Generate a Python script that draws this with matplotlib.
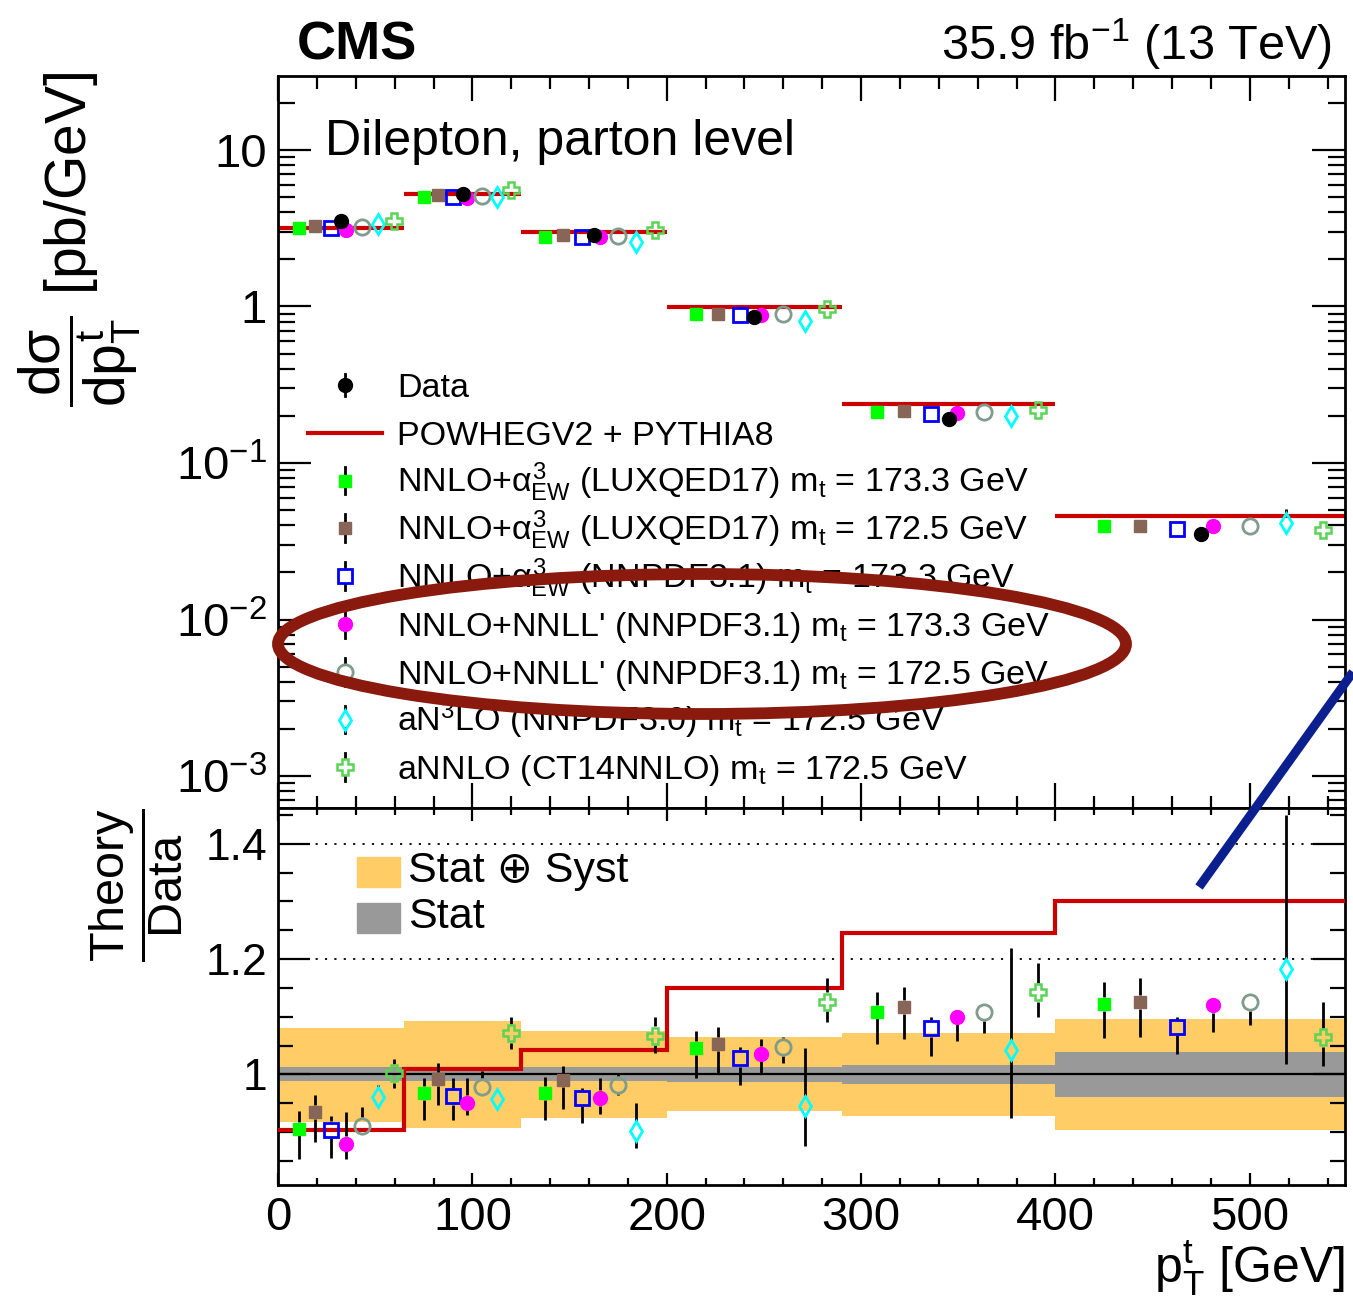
import numpy as np
import matplotlib
matplotlib.use("Agg")
import matplotlib.pyplot as plt
from matplotlib.patches import Ellipse, Rectangle
from matplotlib.lines import Line2D
from matplotlib.ticker import FixedLocator, FixedFormatter, MultipleLocator, LogLocator, NullFormatter

plt.rcParams['font.family'] = ['Liberation Sans', 'DejaVu Sans']
plt.rcParams['mathtext.fontset'] = 'custom'
plt.rcParams['mathtext.rm'] = 'Liberation Sans'
plt.rcParams['mathtext.it'] = 'Liberation Sans'
plt.rcParams['mathtext.bf'] = 'Liberation Sans:bold'
plt.rcParams['mathtext.sf'] = 'Liberation Sans'

# binning in pT(t) [GeV]
bin_edges = [0, 65, 125, 200, 290, 400, 550]

# measured cross section [pb/GeV]
data_xsec = [3.52, 5.21, 2.88, 0.857, 0.191, 0.0352]

# data uncertainty bands (relative)
tot_lo = [0.918, 0.907, 0.925, 0.937, 0.928, 0.903]
tot_hi = [1.081, 1.092, 1.075, 1.064, 1.072, 1.096]
stat_lo = [0.988, 0.988, 0.988, 0.987, 0.983, 0.961]
stat_hi = [1.012, 1.012, 1.012, 1.013, 1.017, 1.038]

# POWHEG+PYTHIA8 / data
powheg_ratio = [0.903, 1.010, 1.043, 1.150, 1.245, 1.300]

# theory / data with error bar ends
lux1733_ratio = [0.906, 0.967, 0.968, 1.045, 1.109, 1.122]
lux1733_lo = [0.854, 0.921, 0.921, 0.993, 1.053, 1.063]
lux1733_hi = [0.937, 0.993, 0.995, 1.075, 1.142, 1.161]

lux1725_ratio = [0.934, 0.992, 0.990, 1.052, 1.117, 1.125]
lux1725_lo = [0.882, 0.947, 0.940, 1.002, 1.061, 1.065]
lux1725_hi = [0.964, 1.019, 1.015, 1.082, 1.151, 1.167]

nnpdf_ew_ratio = [0.904, 0.962, 0.959, 1.028, 1.080, 1.082]
nnpdf_ew_lo = [0.855, 0.921, 0.916, 0.981, 1.032, 1.036]
nnpdf_ew_hi = [0.928, 0.993, 0.976, 1.047, 1.100, 1.099]

nnll1733_ratio = [0.880, 0.951, 0.959, 1.036, 1.100, 1.120]
nnll1733_lo = [0.854, 0.929, 0.931, 1.000, 1.057, 1.074]
nnll1733_hi = [0.934, 0.994, 0.993, 1.061, 1.113, 1.125]

nnll1725_ratio = [0.911, 0.978, 0.981, 1.048, 1.109, 1.126]
nnll1725_lo = [0.894, 0.966, 0.964, 1.020, 1.072, 1.086]
nnll1725_hi = [0.943, 1.006, 1.002, 1.064, 1.115, 1.130]

an3lo_ratio = [0.960, 0.958, 0.902, 0.945, 1.042, 1.182]
an3lo_lo = [0.947, 0.950, 0.872, 0.876, 0.925, 1.018]
an3lo_hi = [0.981, 0.966, 0.951, 1.045, 1.220, 1.450]

annlo_ratio = [1.002, 1.071, 1.067, 1.126, 1.142, 1.064]
annlo_lo = [0.977, 1.044, 1.037, 1.091, 1.099, 1.014]
annlo_hi = [1.027, 1.099, 1.099, 1.167, 1.193, 1.126]

theory_labels = [
    r"NNLO+$\alpha^{3}_{EW}$ (LUXQED17) m$_{t}$ = 173.3 GeV",
    r"NNLO+$\alpha^{3}_{EW}$ (LUXQED17) m$_{t}$ = 172.5 GeV",
    r"NNLO+$\alpha^{3}_{EW}$ (NNPDF3.1) m$_{t}$ = 173.3 GeV",
    r"NNLO+NNLL' (NNPDF3.1) m$_{t}$ = 173.3 GeV",
    r"NNLO+NNLL' (NNPDF3.1) m$_{t}$ = 172.5 GeV",
    r"aN$^{3}$LO (NNPDF3.0) m$_{t}$ = 172.5 GeV",
    r"aNNLO (CT14NNLO) m$_{t}$ = 172.5 GeV",
]

theories = [
    (lux1733_ratio, lux1733_lo, lux1733_hi),
    (lux1725_ratio, lux1725_lo, lux1725_hi),
    (nnpdf_ew_ratio, nnpdf_ew_lo, nnpdf_ew_hi),
    (nnll1733_ratio, nnll1733_lo, nnll1733_hi),
    (nnll1725_ratio, nnll1725_lo, nnll1725_hi),
    (an3lo_ratio, an3lo_lo, an3lo_hi),
    (annlo_ratio, annlo_lo, annlo_hi),
]

styles = [
    dict(marker='s', color='#00FF00', mfc='#00FF00', ms=9),
    dict(marker='s', color='#876657', mfc='#876657', ms=9),
    dict(marker='s', color='#0000FF', mfc='none', ms=10, mew=2),
    dict(marker='o', color='#FF00FF', mfc='#FF00FF', ms=10),
    dict(marker='o', color='#7F9C8C', mfc='none', ms=11, mew=2),
    dict(marker='d', color='#00FFFF', mfc='none', ms=10, mew=2),
    dict(marker='P', color='#59D454', mfc='none', ms=12, mew=1.8),
]


def gap_px(st):
    # half marker extent in pixels (dpi 100)
    return (st['ms'] / 2 + st.get('mew', 1) / 2) * 100 / 72


def draw_err(ax, x, r, lo, hi, gap, zorder):
    # vertical error bars that stop at the marker edge
    to_disp = ax.transData.transform
    to_data = ax.transData.inverted().transform
    for xi, ri, li, hi_ in zip(x, r, lo, hi):
        px, py = to_disp((xi, ri))
        y_below = to_data((px, py - gap))[1]
        y_above = to_data((px, py + gap))[1]
        if li < y_below:
            ax.vlines(xi, li, y_below, color='black', lw=2, zorder=zorder)
        if hi_ > y_above:
            ax.vlines(xi, y_above, hi_, color='black', lw=2, zorder=zorder)


edges = np.array(bin_edges, dtype=float)
lo_edge = edges[:-1]
width = np.diff(edges)
centers = lo_edge + width / 2
data = np.array(data_xsec)

fig = plt.figure(figsize=(13.53, 13.07), dpi=100)
ax1 = fig.add_axes([0.2055, 0.3818, 0.7886, 0.5601])
ax2 = fig.add_axes([0.2055, 0.0933, 0.7886, 0.2885])

# ---------- top panel ----------
ax1.set_yscale('log')
ax1.set_xlim(0, 549)
ax1.set_ylim(6.25e-4, 29.7)

ax1.hlines(data * np.array(powheg_ratio), edges[:-1], edges[1:], color='#CC0000', lw=3, zorder=2)
for i, ((r, lo, hi), st) in enumerate(zip(theories, styles)):
    r, lo, hi = np.array(r), np.array(lo), np.array(hi)
    x = lo_edge + width * (i + 1.33) / 8
    draw_err(ax1, x, r * data, lo * data, hi * data, gap_px(st), 3)
    ax1.plot(x, r * data, ls='none', zorder=4, **st)
ax1.errorbar(centers, data, yerr=[data * (1 - np.array(tot_lo)), data * (np.array(tot_hi) - 1)],
             fmt='o', color='black', ms=10, elinewidth=2, zorder=5)

ax1.yaxis.set_major_locator(FixedLocator([1e-3, 1e-2, 1e-1, 1, 10]))
ax1.yaxis.set_major_formatter(FixedFormatter([r"10$^{-3}$", r"10$^{-2}$", r"10$^{-1}$", "1", "10"]))
ax1.yaxis.set_minor_locator(LogLocator(base=10, subs=np.arange(2, 10)))
ax1.yaxis.set_minor_formatter(NullFormatter())
ax1.xaxis.set_major_locator(MultipleLocator(100))
ax1.xaxis.set_minor_locator(MultipleLocator(20))
ax1.tick_params(which='both', direction='in', top=True, right=True, width=1.6)
ax1.tick_params(axis='y', which='major', length=24, labelsize=34, pad=8)
ax1.tick_params(axis='y', which='minor', length=12)
ax1.tick_params(axis='x', which='major', length=18, labelbottom=False)
ax1.tick_params(axis='x', which='minor', length=9)

ax1.text(0.044, 0.892, "Dilepton, parton level", transform=ax1.transAxes, fontsize=36, va='baseline')

# legend drawn entry by entry (equal row spacing)
lx, tx, y0, dy = 0.0628, 0.1115, 0.5779, 0.0653
ax1_h = 0.5601 * 1307
ax1.plot([lx], [y0], 'o', color='black', ms=10, transform=ax1.transAxes, clip_on=False)
ax1.plot([lx, lx], [y0 - 0.015, y0 + 0.015], color='black', lw=2, transform=ax1.transAxes)
ax1.text(tx, y0 - 0.0164, "Data", transform=ax1.transAxes, fontsize=24.5, va='baseline')
ax1.plot([0.0281, 0.0975], [y0 - dy, y0 - dy], color='#CC0000', lw=3, transform=ax1.transAxes)
ax1.text(tx, y0 - dy - 0.0164, "POWHEGV2 + PYTHIA8", transform=ax1.transAxes, fontsize=24.5, va='baseline')
for i, (lab, st) in enumerate(zip(theory_labels, styles)):
    yy = y0 - (i + 2) * dy
    g = gap_px(st) / ax1_h
    if g < 0.019:
        ax1.plot([lx, lx], [yy - 0.019, yy - g], color='black', lw=2, transform=ax1.transAxes)
        ax1.plot([lx, lx], [yy + g, yy + 0.019], color='black', lw=2, transform=ax1.transAxes)
    ax1.plot([lx], [yy], ls='none', transform=ax1.transAxes, **st)
    ax1.text(tx, yy - 0.0164, lab, transform=ax1.transAxes, fontsize=24.5, va='baseline')

for sp in ax1.spines.values():
    sp.set_linewidth(2)

# ---------- ratio panel ----------
ax2.set_xlim(0, 549)
ax2.set_ylim(0.808, 1.462)

ax2.bar(lo_edge, np.array(tot_hi) - np.array(tot_lo), bottom=tot_lo, width=width, align='edge',
        color='#FFCC66', lw=0, zorder=1)
ax2.bar(lo_edge, np.array(stat_hi) - np.array(stat_lo), bottom=stat_lo, width=width, align='edge',
        color='#999999', lw=0, zorder=1)
ax2.axhline(1.0, color='black', lw=1.6, zorder=2)
for yv in (1.2, 1.4):
    ax2.axhline(yv, color='black', lw=1.3, ls=(0, (1.2, 4)), zorder=2)
ax2.stairs(powheg_ratio, edges, baseline=None, color='#CC0000', lw=3, zorder=3)
for i, ((r, lo, hi), st) in enumerate(zip(theories, styles)):
    r, lo, hi = np.array(r), np.array(lo), np.array(hi)
    x = lo_edge + width * (i + 1.33) / 8
    draw_err(ax2, x, r, lo, hi, gap_px(st), 4)
    ax2.plot(x, r, ls='none', zorder=5, **st)

ax2.yaxis.set_major_locator(FixedLocator([1.0, 1.2, 1.4]))
ax2.yaxis.set_major_formatter(FixedFormatter(["1", "1.2", "1.4"]))
ax2.yaxis.set_minor_locator(MultipleLocator(0.05))
ax2.xaxis.set_major_locator(MultipleLocator(100))
ax2.xaxis.set_minor_locator(MultipleLocator(20))
ax2.tick_params(which='both', direction='in', top=True, right=True, width=1.6)
ax2.tick_params(axis='x', which='major', length=9, labelsize=34, pad=8)
ax2.tick_params(axis='x', which='minor', length=5)
ax2.tick_params(axis='y', which='major', length=23, labelsize=32, pad=8)
ax2.tick_params(axis='y', which='minor', length=11)
for sp in ax2.spines.values():
    sp.set_linewidth(2)

ax2.add_patch(Rectangle((0.074, 0.7905), 0.0403, 0.0796, transform=ax2.transAxes, color='#FFCC66', zorder=6))
ax2.add_patch(Rectangle((0.074, 0.6684), 0.0403, 0.0796, transform=ax2.transAxes, color='#999999', zorder=6))
ax2.text(0.1218, 0.8037, "Stat \u2295 Syst", transform=ax2.transAxes, fontsize=31, va='baseline', zorder=6)
ax2.text(0.1218, 0.6817, "Stat", transform=ax2.transAxes, fontsize=31, va='baseline', zorder=6)

# ---------- labels ----------
fig.text(87 / 1353, 1 - 239 / 1307, r"$\dfrac{d\sigma}{dp^{t}_{T}}$ [pb/GeV]", rotation=90,
         rotation_mode='anchor', ha='center', va='baseline', fontsize=41)
fig.text(136 / 1353, 1 - 885 / 1307, r"$\dfrac{\mathrm{Theory}}{\mathrm{Data}}$", rotation=90,
         ha='center', va='center', fontsize=35)
fig.text(1345 / 1353, 1 - 1283 / 1307, r"p$^{t}_{T}$ [GeV]", ha='right', va='baseline', fontsize=36)
fig.text(297 / 1353, 1 - 60 / 1307, "CMS", fontsize=39, fontweight='bold', va='baseline')
fig.text(1332 / 1353, 1 - 60 / 1307, r"35.9 fb$^{-1}$ (13 TeV)", ha='right', va='baseline', fontsize=35)

# ---------- hand-drawn highlights ----------
fig.add_artist(Ellipse((702 / 1353, 1 - 644 / 1307), 848 / 1353, 140 / 1307, transform=fig.transFigure,
                       fill=False, ec='#8B1A0E', lw=8.5, zorder=10))
fig.add_artist(Line2D([1199 / 1353, 1.0], [1 - 887 / 1307, 1 - 672 / 1307], transform=fig.transFigure,
                      color='#0B1F8E', lw=6.5, solid_capstyle='butt', zorder=10))

fig.savefig("out.png", dpi=100)
